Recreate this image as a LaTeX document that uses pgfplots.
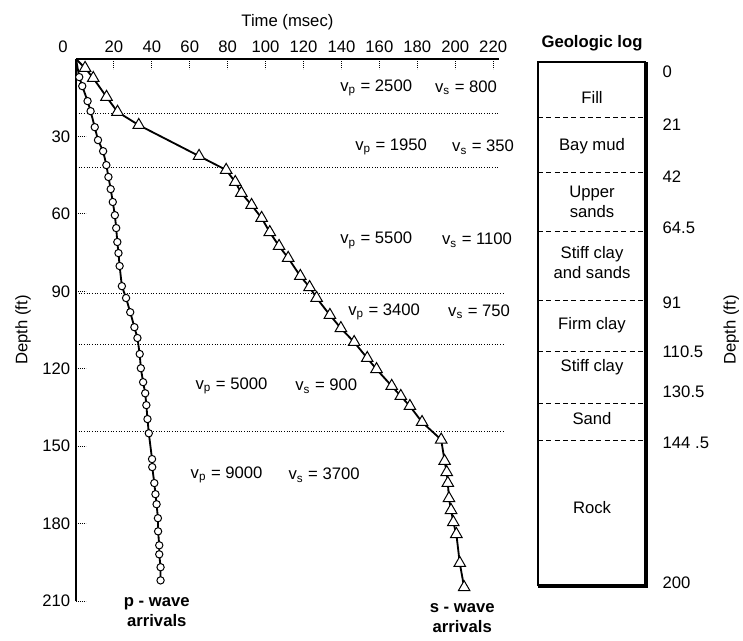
\documentclass[border=0pt]{standalone}
\usepackage{pgfplots}
\pgfplotsset{compat=1.18}
\usepackage{fontspec}
\setmainfont{Liberation Sans}
\begin{document}
\fontsize{10}{12}\selectfont
\begin{tikzpicture}
\useasboundingbox (0,0) rectangle (445.8pt,-384pt);
% ---------------- main axis ----------------
\begin{axis}[
  at={(45.6pt,-35.4pt)}, anchor=north west,
  scale only axis, width=253.7pt, height=325.2pt,
  xmin=0, xmax=223, ymin=0, ymax=210, y dir=reverse,
  axis x line*=top, axis y line*=left,
  axis line style={line width=0.9pt, black},
  xtick={20,40,...,220}, ytick={30,60,...,210},
  tick align=inside, major tick length=6pt,
  tick style={densely dotted, line width=0.6pt, black},
  /pgf/number format/assume math mode=true,
  ticklabel style={font=\fontsize{10}{12}\selectfont},
  xlabel={Time (msec)}, ylabel={Depth (ft)},
  label style={font=\fontsize{10}{12}\selectfont},
  clip=false,
]
% layer boundaries
\addplot[densely dotted, line width=0.6pt] coordinates {(0,21)(223,21)};
\addplot[densely dotted, line width=0.6pt] coordinates {(0,42)(223,42)};
\addplot[densely dotted, line width=0.6pt] coordinates {(0,91)(226,91)};
\addplot[densely dotted, line width=0.6pt] coordinates {(0,110.5)(226,110.5)};
\addplot[densely dotted, line width=0.6pt] coordinates {(0,144.5)(226,144.5)};
% p-wave arrivals
\addplot[black, line width=1.1pt] coordinates {
(0,0)(1.7,7.0)(3.3,10.5)(6.1,16.3)(7.7,20.2)(9.9,26.4)(11.6,31.4)(14.3,35.7)
(16.0,41.1)(17.1,45.7)(18.3,50.4)(19.4,55.4)(20.5,60.5)(21.2,65.5)(21.8,70.9)
(22.4,75.2)(23.0,80.2)(24.2,88.0)(26.4,92.6)(28.6,98.1)(30.8,103.9)(32.4,108.1)
(33.6,114.3)(34.2,119.8)(35.4,125.2)(36.5,129.5)(37.1,134.1)(37.7,139.5)(38.4,145.0)
(40.1,155.0)(40.2,158.1)(41.3,164.3)(41.9,168.6)(42.5,172.5)(43.2,177.9)(43.3,183.0)
(43.9,188.4)(43.9,191.9)(44.6,196.9)(44.6,202.0)};
\addplot[only marks, mark=*, mark size=2.2pt, mark options={fill=white, draw=black, line width=0.6pt}] coordinates {
(1.7,7.0)(3.3,10.5)(6.1,16.3)(7.7,20.2)(9.9,26.4)(11.6,31.4)(14.3,35.7)
(16.0,41.1)(17.1,45.7)(18.3,50.4)(19.4,55.4)(20.5,60.5)(21.2,65.5)(21.8,70.9)
(22.4,75.2)(23.0,80.2)(24.2,88.0)(26.4,92.6)(28.6,98.1)(30.8,103.9)(32.4,108.1)
(33.6,114.3)(34.2,119.8)(35.4,125.2)(36.5,129.5)(37.1,134.1)(37.7,139.5)(38.4,145.0)
(40.1,155.0)(40.2,158.1)(41.3,164.3)(41.9,168.6)(42.5,172.5)(43.2,177.9)(43.3,183.0)
(43.9,188.4)(43.9,191.9)(44.6,196.9)(44.6,202.0)};
% s-wave arrivals
\addplot[black, line width=1.1pt] coordinates {
(0,0)(4.8,3.5)(9.1,7.4)(16.1,14.7)(21.9,20.5)(33.1,25.6)(64.9,37.6)(79.2,43.0)
(84.0,47.7)(87.2,51.9)(92.6,56.6)(97.9,61.6)(102.2,67.1)(107.1,72.5)(111.9,77.1)
(118.3,84.1)(123.2,88.4)(126.9,92.6)(133.9,99.2)(139.7,104.3)(146.7,109.7)
(153.6,115.9)(158.5,120.2)(166.5,126.7)(171.3,130.6)(176.1,134.5)(182.5,140.7)
(192.6,147.5)(194.4,155.8)(195.5,160.1)(196.1,164.3)(196.7,170.2)(197.8,174.8)
(199.0,179.5)(200.6,184.1)(202.4,195.3)(204.7,204.7)};
\addplot[only marks, mark=triangle*, mark size=4pt, mark options={fill=white, draw=black, line width=0.6pt}] coordinates {
(4.8,3.5)(9.1,7.4)(16.1,14.7)(21.9,20.5)(33.1,25.6)(64.9,37.6)(79.2,43.0)
(84.0,47.7)(87.2,51.9)(92.6,56.6)(97.9,61.6)(102.2,67.1)(107.1,72.5)(111.9,77.1)
(118.3,84.1)(123.2,88.4)(126.9,92.6)(133.9,99.2)(139.7,104.3)(146.7,109.7)
(153.6,115.9)(158.5,120.2)(166.5,126.7)(171.3,130.6)(176.1,134.5)(182.5,140.7)
(192.6,147.5)(194.4,155.8)(195.5,160.1)(196.1,164.3)(196.7,170.2)(197.8,174.8)
(199.0,179.5)(200.6,184.1)(202.4,195.3)(204.7,204.7)};
% origin label
\node[anchor=south, inner sep=3.33pt] at (-6.8,0) {0};
% velocity labels
\node[anchor=west] at (136.3,11.2) {v\textsubscript{p} = 2500};
\node[anchor=west] at (186.3,11.2) {v\textsubscript{s} = 800};
\node[anchor=west] at (144.2,34.1) {v\textsubscript{p} = 1950};
\node[anchor=west] at (195.3,34.1) {v\textsubscript{s} = 350};
\node[anchor=west] at (136.3,70.2) {v\textsubscript{p} = 5500};
\node[anchor=west] at (190.0,70.2) {v\textsubscript{s} = 1100};
\node[anchor=west] at (140.5,98.0) {v\textsubscript{p} = 3400};
\node[anchor=west] at (193.2,98.0) {v\textsubscript{s} = 750};
\node[anchor=west] at (60.0,126.7) {v\textsubscript{p} = 5000};
\node[anchor=west] at (112.6,126.7) {v\textsubscript{s} = 900};
\node[anchor=west] at (57.4,161.2) {v\textsubscript{p} = 9000};
\node[anchor=west] at (109.0,161.2) {v\textsubscript{s} = 3700};
% curve labels
\node[anchor=north, align=center, font=\bfseries, inner sep=0pt] at (42.6,208.5) {p - wave\\arrivals};
\node[anchor=north, align=center, font=\bfseries, inner sep=0pt] at (203.7,210.9) {s - wave\\arrivals};
\end{axis}
% ---------------- geologic log ----------------
\begin{axis}[
  at={(322.8pt,-37.2pt)}, anchor=north west,
  scale only axis, width=64.8pt, height=314.4pt,
  xmin=0, xmax=1, ymin=0, ymax=200, y dir=reverse,
  hide axis, clip=false,
]
\addplot[black, line width=0.8pt] coordinates {(0,200)(0,0)(1,0)};
\addplot[black, line width=2pt] coordinates {(1,0)(1,200)(0,200)};
\addplot[densely dashed, line width=0.6pt] coordinates {(0,21)(1,21)};
\addplot[densely dashed, line width=0.6pt] coordinates {(0,42)(1,42)};
\addplot[densely dashed, line width=0.6pt] coordinates {(0,64.5)(1,64.5)};
\addplot[densely dashed, line width=0.6pt] coordinates {(0,91)(1,91)};
\addplot[densely dashed, line width=0.6pt] coordinates {(0,110.5)(1,110.5)};
\addplot[densely dashed, line width=0.6pt] coordinates {(0,130.5)(1,130.5)};
\addplot[densely dashed, line width=0.6pt] coordinates {(0,144.5)(1,144.5)};
\node[font=\bfseries] at (0.5,-7.3) {Geologic log};
\node at (0.5,13.4) {Fill};
\node at (0.5,32) {Bay mud};
\node[align=center] at (0.5,53.4) {Upper\\sands};
\node[align=center] at (0.5,76.7) {Stiff clay\\and sands};
\node at (0.5,100.4) {Firm clay};
\node at (0.5,116.4) {Stiff clay};
\node at (0.5,135.9) {Sand};
\node at (0.5,170.2) {Rock};
\node[anchor=west] at (1.1,3.8) {0};
\node[anchor=west] at (1.1,24) {21};
\node[anchor=west] at (1.1,43.9) {42};
\node[anchor=west] at (1.1,63.4) {64.5};
\node[anchor=west] at (1.1,92) {91};
\node[anchor=west] at (1.1,110.7) {110.5};
\node[anchor=west] at (1.1,126) {130.5};
\node[anchor=west] at (1.1,145.4) {144 .5};
\node[anchor=west] at (1.1,198.9) {200};
\node[rotate=90] at (1.79,102.3) {Depth (ft)};
\end{axis}
\end{tikzpicture}
\end{document}
